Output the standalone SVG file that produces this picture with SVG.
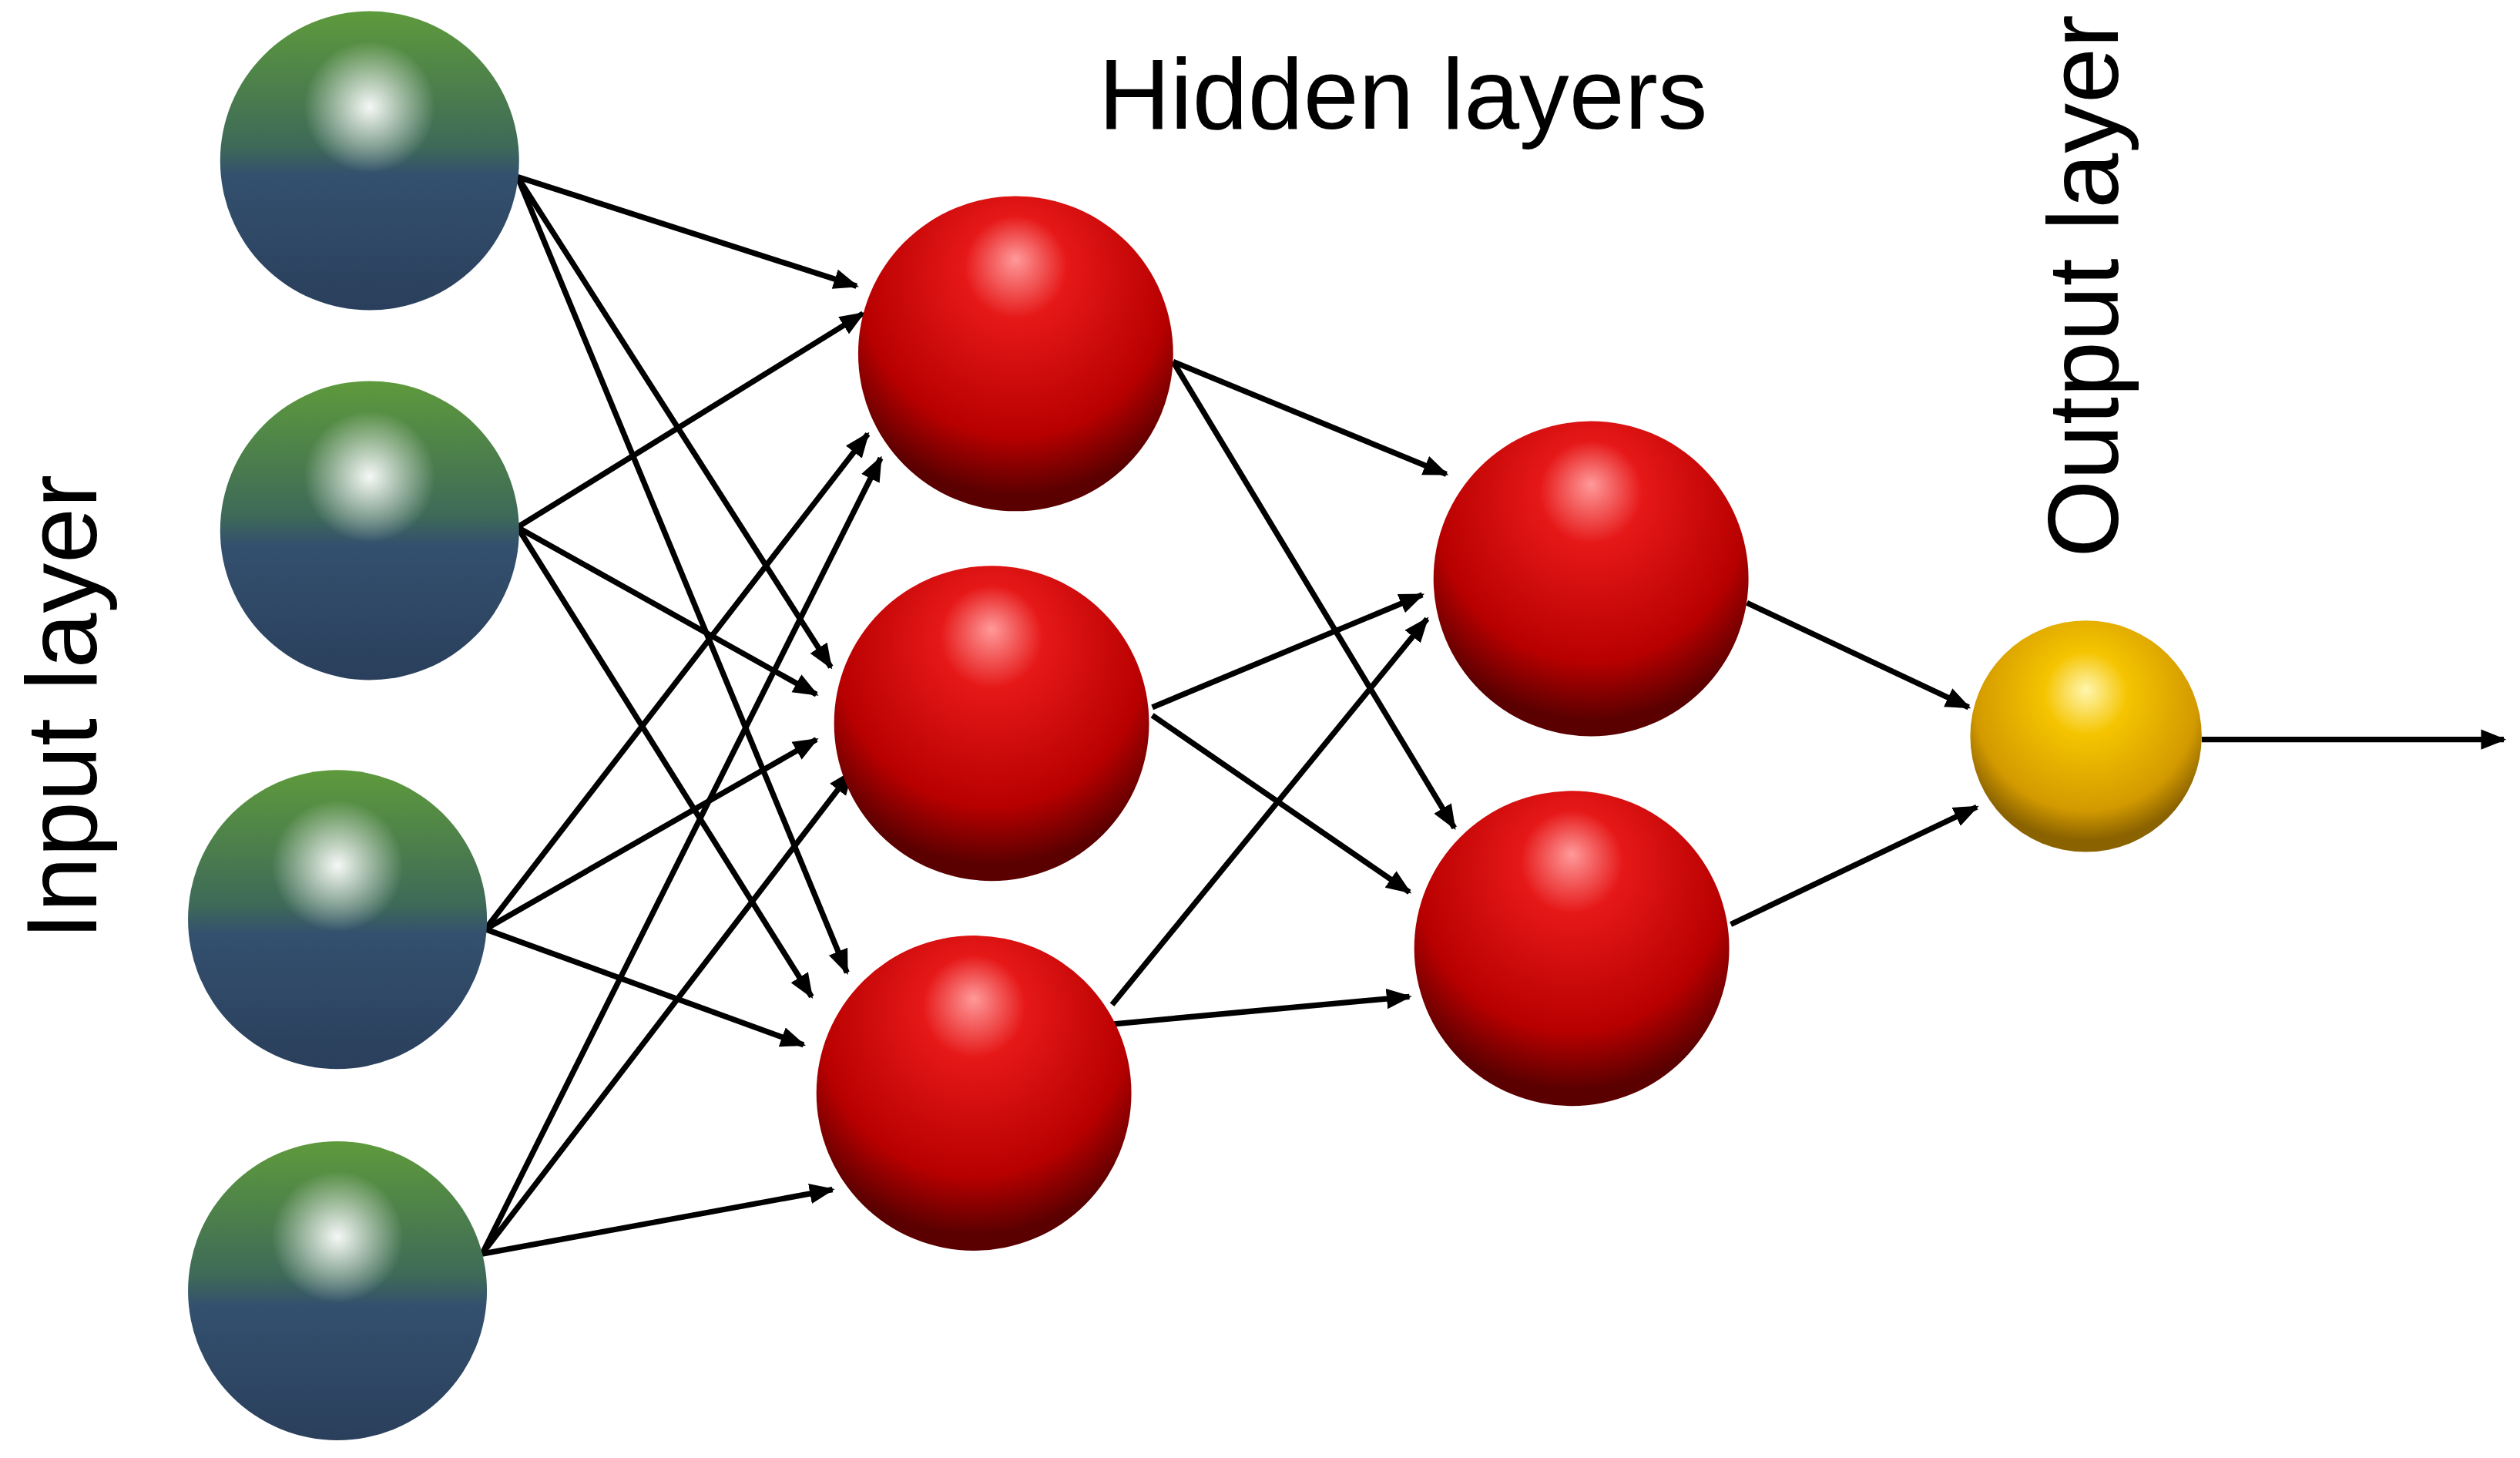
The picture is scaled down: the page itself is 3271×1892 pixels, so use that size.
<svg xmlns="http://www.w3.org/2000/svg" width="3271" height="1892" viewBox="0 0 3271 1892">
<defs>
<linearGradient id="gb" x1="0" y1="0" x2="0" y2="1">
<stop offset="0" stop-color="#5e9a3c"/><stop offset="0.45" stop-color="#3e6a58"/><stop offset="0.55" stop-color="#33506e"/><stop offset="1" stop-color="#2a3f5c"/></linearGradient>
<radialGradient id="gh" cx="0.5" cy="0.32" r="0.22"><stop offset="0" stop-color="#ffffff" stop-opacity="0.95"/><stop offset="1" stop-color="#ffffff" stop-opacity="0"/></radialGradient>
<radialGradient id="red" cx="0.5" cy="0.3" r="0.65" fx="0.5" fy="0.2"><stop offset="0" stop-color="#ff9a9a"/><stop offset="0.25" stop-color="#e61818"/><stop offset="0.75" stop-color="#b80000"/><stop offset="1" stop-color="#5a0000"/></radialGradient>
<radialGradient id="yel" cx="0.5" cy="0.35" r="0.6" fx="0.5" fy="0.3"><stop offset="0" stop-color="#fff6b0"/><stop offset="0.3" stop-color="#f5c400"/><stop offset="0.8" stop-color="#d39a00"/><stop offset="1" stop-color="#8a6200"/></radialGradient>
<marker id="ah" viewBox="0 0 10 10" refX="9" refY="5" markerWidth="4.5" markerHeight="4.5" orient="auto"><path d="M0,1 L10,5 L0,9 z" fill="#000"/></marker>
<style>.e{stroke:#000;stroke-width:3.5;fill:none;marker-end:url(#ah)} .t{font-family:"Liberation Sans",Arial,sans-serif;font-size:62px;fill:#000}</style>
</defs>
<rect width="3271" height="1892" fill="#fff"/>
<g transform="scale(2.086)">
<g id="connectors">
<line class="e" x1="322" y1="110" x2="533" y2="178"/>
<line class="e" x1="322" y1="110" x2="517" y2="415"/>
<line class="e" x1="322" y1="110" x2="527" y2="605"/>
<line class="e" x1="322" y1="328" x2="537" y2="195"/>
<line class="e" x1="322" y1="328" x2="508" y2="432"/>
<line class="e" x1="322" y1="328" x2="505" y2="620"/>
<line class="e" x1="302" y1="578" x2="540" y2="270"/>
<line class="e" x1="302" y1="578" x2="508" y2="460"/>
<line class="e" x1="302" y1="578" x2="500" y2="650"/>
<line class="e" x1="300" y1="780" x2="548" y2="285"/>
<line class="e" x1="300" y1="780" x2="530" y2="480"/>
<line class="e" x1="300" y1="780" x2="518" y2="740"/>
<line class="e" x1="730" y1="225" x2="900" y2="295"/>
<line class="e" x1="730" y1="225" x2="905" y2="515"/>
<line class="e" x1="717" y1="440" x2="885" y2="370"/>
<line class="e" x1="717" y1="445" x2="877" y2="555"/>
<line class="e" x1="692" y1="625" x2="888" y2="385"/>
<line class="e" x1="693" y1="637" x2="877" y2="620"/>
<line class="e" x1="1087" y1="375" x2="1225" y2="440"/>
<line class="e" x1="1077" y1="575" x2="1230" y2="502"/>
<line class="e" x1="1370" y1="460" x2="1558" y2="460"/>
</g>
<g id="in1"><circle cx="230" cy="100" r="93" fill="url(#gb)"/><circle cx="230" cy="100" r="93" fill="url(#gh)"/></g>
<g id="in2"><circle cx="230" cy="330" r="93" fill="url(#gb)"/><circle cx="230" cy="330" r="93" fill="url(#gh)"/></g>
<g id="in3"><circle cx="210" cy="572" r="93" fill="url(#gb)"/><circle cx="210" cy="572" r="93" fill="url(#gh)"/></g>
<g id="in4"><circle cx="210" cy="803" r="93" fill="url(#gb)"/><circle cx="210" cy="803" r="93" fill="url(#gh)"/></g>
<g id="h1"><circle cx="632" cy="220" r="98" fill="url(#red)"/></g>
<g id="h2"><circle cx="617" cy="450" r="98" fill="url(#red)"/></g>
<g id="h3"><circle cx="606" cy="680" r="98" fill="url(#red)"/></g>
<g id="j1"><circle cx="990" cy="360" r="98" fill="url(#red)"/></g>
<g id="j2"><circle cx="978" cy="590" r="98" fill="url(#red)"/></g>
<g id="out"><circle cx="1298" cy="458" r="72" fill="url(#yel)"/></g>
<text class="t" x="873" y="80" text-anchor="middle">Hidden layers</text>
<text class="t" transform="translate(60,440) rotate(-90)" text-anchor="middle">Input layer</text>
<text class="t" transform="translate(1318,178) rotate(-90)" text-anchor="middle">Output layer</text>
</g>
</svg>
